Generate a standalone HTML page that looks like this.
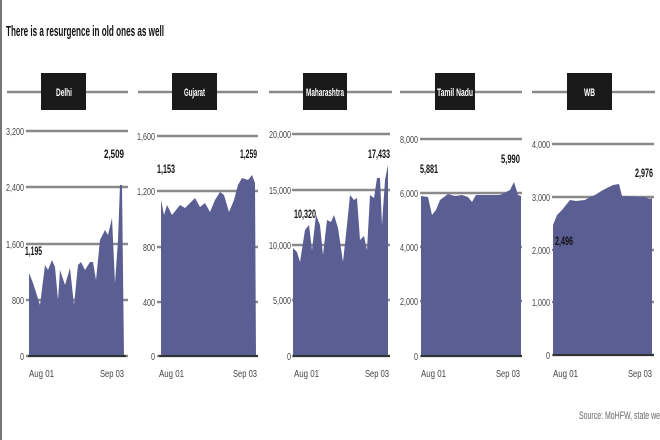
<!DOCTYPE html>
<html><head><meta charset="utf-8"><style>
html,body{margin:0;padding:0;background:#fff;}
svg{display:block;}
text{font-family:"Liberation Sans",sans-serif;}
.t{font-size:10.5px;fill:#444;}
.h{font-size:11px;fill:#fff;font-weight:bold;}
.v{font-size:11.5px;fill:#111;font-weight:bold;}
.g{stroke:#8a8a8a;stroke-width:2.5;}
.a{fill:#5b5e92;}
</style></head><body>
<svg width="660" height="440" viewBox="0 0 660 440" xmlns="http://www.w3.org/2000/svg">
<rect x="0" y="0" width="2" height="440" fill="#777"/>
<text x="6" y="36" font-size="15" font-weight="bold" fill="#111" textLength="158" lengthAdjust="spacingAndGlyphs">There is a resurgence in old ones as well</text>

<!-- Delhi -->
<line class="g" x1="7" y1="92" x2="128" y2="92"/>
<rect x="41" y="73" width="45" height="37" fill="#1a1a1a"/>
<text class="h" x="56" y="96" textLength="16" lengthAdjust="spacingAndGlyphs">Delhi</text>
<g class="g"><line x1="26" y1="131" x2="128" y2="131"/><line x1="26" y1="187" x2="128" y2="187"/><line x1="26" y1="244" x2="128" y2="244"/><line x1="26" y1="300" x2="128" y2="300"/><line x1="26" y1="356" x2="128" y2="356"/></g>
<polygon class="a" points="29,356 29,273 33,283 40,305 45,265 48,270 52,260 55,267 58,300 60,270 65,285 70,268 74,305 78,265 81,262 85,270 90,262 93,262 96,280 100,240 105,230 108,235 112,218 115,283 118,240 120,185 122,185 124,356"/>
<line x1="28" y1="356" x2="126" y2="356" stroke="#333" stroke-width="2"/>
<g class="t"><text x="6" y="135" textLength="18" lengthAdjust="spacingAndGlyphs">3,200</text><text x="6" y="191" textLength="18" lengthAdjust="spacingAndGlyphs">2,400</text><text x="6" y="248" textLength="18" lengthAdjust="spacingAndGlyphs">1,600</text><text x="12" y="304" textLength="12" lengthAdjust="spacingAndGlyphs">800</text><text x="20" y="360" textLength="4" lengthAdjust="spacingAndGlyphs">0</text></g>
<text class="v" x="25" y="255" textLength="17" lengthAdjust="spacingAndGlyphs">1,195</text><text class="v" x="104" y="158" textLength="20" lengthAdjust="spacingAndGlyphs">2,509</text>
<g class="t"><text x="29" y="377" textLength="25" lengthAdjust="spacingAndGlyphs">Aug 01</text><text x="100" y="377" textLength="24" lengthAdjust="spacingAndGlyphs">Sep 03</text></g>

<!-- Gujarat -->
<line class="g" x1="138" y1="92" x2="258" y2="92"/>
<rect x="172" y="73" width="45" height="37" fill="#1a1a1a"/>
<text class="h" x="184" y="96" textLength="21" lengthAdjust="spacingAndGlyphs">Gujarat</text>
<g class="g"><line x1="157" y1="136" x2="258" y2="136"/><line x1="157" y1="191" x2="258" y2="191"/><line x1="157" y1="247" x2="258" y2="247"/><line x1="157" y1="302" x2="258" y2="302"/><line x1="157" y1="356" x2="258" y2="356"/></g>
<polygon class="a" points="161,356 161,200 164,215 167,205 172,215 176,210 180,205 185,208 190,203 195,198 200,207 205,203 210,212 215,200 220,192 224,195 229,212 234,200 238,185 242,178 248,180 252,175 255,183 256,356"/>
<line x1="159" y1="356" x2="258" y2="356" stroke="#333" stroke-width="2"/>
<g class="t"><text x="137" y="140" textLength="18" lengthAdjust="spacingAndGlyphs">1,600</text><text x="137" y="195" textLength="18" lengthAdjust="spacingAndGlyphs">1,200</text><text x="143" y="251" textLength="12" lengthAdjust="spacingAndGlyphs">800</text><text x="143" y="306" textLength="12" lengthAdjust="spacingAndGlyphs">400</text><text x="151" y="360" textLength="4" lengthAdjust="spacingAndGlyphs">0</text></g>
<text class="v" x="157" y="173" textLength="18" lengthAdjust="spacingAndGlyphs">1,153</text><text class="v" x="240" y="158" textLength="17" lengthAdjust="spacingAndGlyphs">1,259</text>
<g class="t"><text x="159" y="377" textLength="25" lengthAdjust="spacingAndGlyphs">Aug 01</text><text x="233" y="377" textLength="24" lengthAdjust="spacingAndGlyphs">Sep 03</text></g>

<!-- Maharashtra -->
<line class="g" x1="269" y1="92" x2="392" y2="92"/>
<rect x="303" y="73" width="44" height="37" fill="#1a1a1a"/>
<text class="h" x="306" y="96" textLength="38" lengthAdjust="spacingAndGlyphs">Maharashtra</text>
<g class="g"><line x1="292" y1="134" x2="390" y2="134"/><line x1="292" y1="190" x2="390" y2="190"/><line x1="292" y1="245" x2="390" y2="245"/><line x1="292" y1="300" x2="390" y2="300"/><line x1="292" y1="356" x2="390" y2="356"/></g>
<polygon class="a" points="293,356 293,248 297,252 300,262 305,230 309,225 312,250 316,215 320,225 323,255 327,220 331,222 334,215 338,228 343,262 347,225 350,195 354,200 357,198 360,240 364,236 367,250 370,195 374,198 377,178 380,178 382,225 385,180 388,165 388,356"/>
<line x1="293" y1="356" x2="390" y2="356" stroke="#333" stroke-width="2"/>
<g class="t"><text x="269" y="138" textLength="22" lengthAdjust="spacingAndGlyphs">20,000</text><text x="269" y="194" textLength="22" lengthAdjust="spacingAndGlyphs">15,000</text><text x="269" y="249" textLength="22" lengthAdjust="spacingAndGlyphs">10,000</text><text x="273" y="304" textLength="18" lengthAdjust="spacingAndGlyphs">5,000</text><text x="287" y="360" textLength="4" lengthAdjust="spacingAndGlyphs">0</text></g>
<text class="v" x="294" y="218" textLength="22" lengthAdjust="spacingAndGlyphs">10,320</text><text class="v" x="368" y="158" textLength="22" lengthAdjust="spacingAndGlyphs">17,433</text>
<g class="t"><text x="294" y="377" textLength="25" lengthAdjust="spacingAndGlyphs">Aug 01</text><text x="365" y="377" textLength="24" lengthAdjust="spacingAndGlyphs">Sep 03</text></g>

<!-- Tamil Nadu -->
<line class="g" x1="400" y1="92" x2="522" y2="92"/>
<rect x="435" y="73" width="40" height="37" fill="#1a1a1a"/>
<text class="h" x="437" y="96" textLength="36" lengthAdjust="spacingAndGlyphs">Tamil Nadu</text>
<g class="g"><line x1="420" y1="139" x2="522" y2="139"/><line x1="420" y1="193" x2="522" y2="193"/><line x1="420" y1="247" x2="522" y2="247"/><line x1="420" y1="301" x2="522" y2="301"/><line x1="420" y1="356" x2="522" y2="356"/></g>
<polygon class="a" points="421,356 421,196 428,197 432,215 436,210 440,200 448,194 455,196 462,195 468,197 472,202 476,195 500,195 510,190 514,182 518,195 521,196 521,356"/>
<line x1="421" y1="356" x2="522" y2="356" stroke="#333" stroke-width="2"/>
<g class="t"><text x="400" y="143" textLength="18" lengthAdjust="spacingAndGlyphs">8,000</text><text x="400" y="197" textLength="18" lengthAdjust="spacingAndGlyphs">6,000</text><text x="400" y="251" textLength="18" lengthAdjust="spacingAndGlyphs">4,000</text><text x="400" y="305" textLength="18" lengthAdjust="spacingAndGlyphs">2,000</text><text x="414" y="360" textLength="4" lengthAdjust="spacingAndGlyphs">0</text></g>
<text class="v" x="420" y="173" textLength="18" lengthAdjust="spacingAndGlyphs">5,881</text><text class="v" x="501" y="163" textLength="19" lengthAdjust="spacingAndGlyphs">5,990</text>
<g class="t"><text x="421" y="377" textLength="25" lengthAdjust="spacingAndGlyphs">Aug 01</text><text x="496" y="377" textLength="24" lengthAdjust="spacingAndGlyphs">Sep 03</text></g>

<!-- WB -->
<line class="g" x1="532" y1="92" x2="655" y2="92"/>
<rect x="567" y="73" width="45" height="37" fill="#1a1a1a"/>
<text class="h" x="584" y="96" textLength="11" lengthAdjust="spacingAndGlyphs">WB</text>
<g class="g"><line x1="552" y1="144" x2="654" y2="144"/><line x1="552" y1="197" x2="654" y2="197"/><line x1="552" y1="250" x2="654" y2="250"/><line x1="552" y1="302" x2="654" y2="302"/><line x1="552" y1="355" x2="654" y2="355"/></g>
<polygon class="a" points="553,355 553,225 557,215 562,210 566,205 570,200 576,201 585,200 590,197 595,195 603,190 613,185 619,184 622,196 645,197 650,199 652,198 652,355"/>
<line x1="553" y1="355" x2="654" y2="355" stroke="#333" stroke-width="2"/>
<g class="t"><text x="532" y="148" textLength="18" lengthAdjust="spacingAndGlyphs">4,000</text><text x="532" y="201" textLength="18" lengthAdjust="spacingAndGlyphs">3,000</text><text x="532" y="254" textLength="18" lengthAdjust="spacingAndGlyphs">2,000</text><text x="532" y="306" textLength="18" lengthAdjust="spacingAndGlyphs">1,000</text><text x="546" y="359" textLength="4" lengthAdjust="spacingAndGlyphs">0</text></g>
<text class="v" x="555" y="245" textLength="18" lengthAdjust="spacingAndGlyphs">2,496</text><text class="v" x="635" y="177" textLength="18" lengthAdjust="spacingAndGlyphs">2,976</text>
<g class="t"><text x="553" y="377" textLength="25" lengthAdjust="spacingAndGlyphs">Aug 01</text><text x="628" y="377" textLength="24" lengthAdjust="spacingAndGlyphs">Sep 03</text></g>

<text x="579" y="419" font-size="11" fill="#666" textLength="81" lengthAdjust="spacingAndGlyphs">Source: MoHFW, state we</text>
</svg>
</body></html>
